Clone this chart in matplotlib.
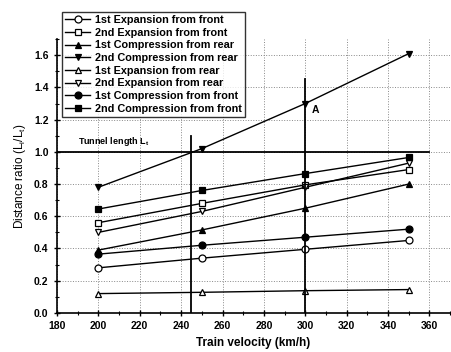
import matplotlib
matplotlib.use("Agg")
import matplotlib.pyplot as plt
from matplotlib.ticker import MultipleLocator

plt.rcParams['font.family'] = ['Liberation Sans', 'DejaVu Sans']
plt.rcParams['font.weight'] = 'bold'

velocity = [200, 250, 300, 350]
exp1_front = [0.28, 0.34, 0.395, 0.45]
exp2_front = [0.56, 0.68, 0.795, 0.89]
comp1_rear = [0.39, 0.515, 0.65, 0.80]
comp2_rear = [0.78, 1.02, 1.30, 1.61]
exp1_rear = [0.12, 0.128, 0.138, 0.145]
exp2_rear = [0.50, 0.63, 0.78, 0.93]
comp1_front = [0.365, 0.42, 0.47, 0.52]
comp2_front = [0.645, 0.76, 0.865, 0.965]

series = [
    ("1st Expansion from front", exp1_front, 'o', 'white'),
    ("2nd Expansion from front", exp2_front, 's', 'white'),
    ("1st Compression from rear", comp1_rear, '^', 'black'),
    ("2nd Compression from rear", comp2_rear, 'v', 'black'),
    ("1st Expansion from rear", exp1_rear, '^', 'white'),
    ("2nd Expansion from rear", exp2_rear, 'v', 'white'),
    ("1st Compression from front", comp1_front, 'o', 'black'),
    ("2nd Compression from front", comp2_front, 's', 'black'),
]

fig = plt.figure(figsize=(4.52, 3.52), dpi=100)
ax = fig.add_axes([0.126, 0.111, 0.87, 0.778])

for label, vals, m, fc in series:
    ax.plot(velocity, vals, color='black', lw=1.0, marker=m, markersize=5,
            markerfacecolor=fc, markeredgecolor='black', markeredgewidth=0.9, label=label)

# reference lines
ax.plot([180, 360], [1.0, 1.0], color='black', lw=1.3)
ax.plot([245, 245], [0, 1.10], color='black', lw=1.3)
ax.plot([300, 300], [0, 1.45], color='black', lw=1.3)
ax.text(190, 1.025, "Tunnel length L$_\\mathregular{t}$", fontsize=6.5, fontweight='bold', va='bottom')
ax.text(303, 1.24, "A", fontsize=7.5, fontweight='bold')

ax.set_xlim(180, 370)
ax.set_ylim(0, 1.7)
ax.xaxis.set_major_locator(MultipleLocator(20))
ax.xaxis.set_minor_locator(MultipleLocator(10))
ax.yaxis.set_major_locator(MultipleLocator(0.2))
ax.yaxis.set_minor_locator(MultipleLocator(0.1))
ax.set_xticks(range(180, 361, 20))
ax.set_yticks([0.0, 0.2, 0.4, 0.6, 0.8, 1.0, 1.2, 1.4, 1.6])
ax.set_yticklabels(['0.0', '0.2', '0.4', '0.6', '0.8', '1.0', '1.2', '1.4', '1.6'])

ax.grid(True, which='major', linestyle=':', color='#888888', lw=0.7)
ax.spines['top'].set_visible(False)
ax.spines['right'].set_visible(False)
ax.spines['left'].set_linewidth(1.2)
ax.spines['bottom'].set_linewidth(1.2)
ax.tick_params(axis='both', which='major', direction='inout', length=5, width=1, labelsize=7.5)
ax.tick_params(axis='both', which='minor', direction='inout', length=3, width=0.8)
for t in ax.get_xticklabels() + ax.get_yticklabels():
    t.set_fontweight('bold')

ax.set_xlabel("Train velocity (km/h)", fontsize=8.5, fontweight='bold')
ax.set_ylabel("Distance ratio (L$_\\mathregular{i}$/L$_\\mathregular{t}$)", fontsize=8.5, fontweight='normal')

leg = ax.legend(loc='upper left', bbox_to_anchor=(0.013, 1.10), fontsize=7.8, frameon=True, fancybox=False,
                edgecolor='black', handlelength=2.3, labelspacing=0.25, borderpad=0.3, handletextpad=0.4,
                borderaxespad=0)
leg.get_frame().set_linewidth(1.0)
for t in leg.get_texts():
    t.set_fontweight('bold')

fig.savefig("out.png", dpi=100)
